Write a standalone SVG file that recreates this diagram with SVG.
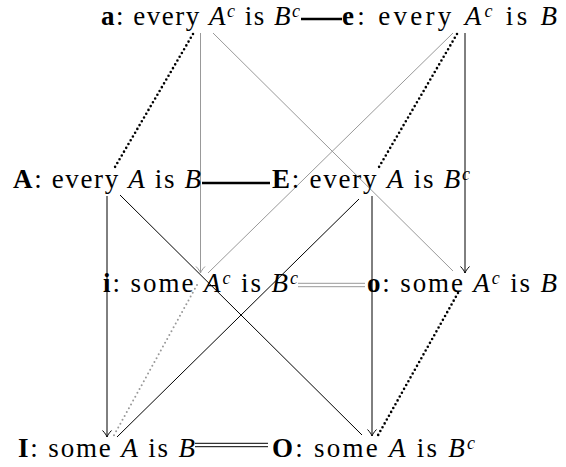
<svg xmlns="http://www.w3.org/2000/svg" width="566" height="467" viewBox="0 0 566 467">
<style>
.t{font-family:"Liberation Serif","Times New Roman",serif;font-size:27px;fill:#000}
.b{font-weight:bold}
.i{font-style:italic}
.s{font-style:italic;font-size:18px}
.k{fill:none;stroke:#000;stroke-width:1}
.g{fill:none;stroke:#999;stroke-width:1}
.thick{fill:none;stroke:#000;stroke-width:2.6}
.dot{fill:none;stroke:#000;stroke-width:2.6;stroke-dasharray:0 4.4;stroke-linecap:round}
.gdot{fill:none;stroke:#999;stroke-width:2;stroke-dasharray:0 4.4;stroke-linecap:round}
</style>
<defs>
<marker id="ak" viewBox="-8 -6 10 12" refX="0" refY="0" markerWidth="10" markerHeight="12" markerUnits="userSpaceOnUse" orient="auto">
<path d="M-6.5,-4.5 C-4,-2 -1.5,-0.5 0,0 C-1.5,0.5 -4,2 -6.5,4.5" fill="none" stroke="#000" stroke-width="1"/>
</marker>
<marker id="ag" viewBox="-8 -6 10 12" refX="0" refY="0" markerWidth="10" markerHeight="12" markerUnits="userSpaceOnUse" orient="auto">
<path d="M-6.5,-4.5 C-4,-2 -1.5,-0.5 0,0 C-1.5,0.5 -4,2 -6.5,4.5" fill="none" stroke="#999" stroke-width="1"/>
</marker>
</defs>
<g id="connectors">
<line class="g" x1="200.5" y1="33" x2="200.5" y2="273" marker-end="url(#ag)"/>
<line class="k" x1="465" y1="33" x2="465" y2="273" marker-end="url(#ak)"/>
<line class="k" x1="107" y1="196" x2="107" y2="437" stroke="#444" marker-end="url(#ak)"/>
<line class="k" x1="372" y1="196" x2="372" y2="436" marker-end="url(#ak)"/>
<line class="g" x1="213" y1="33" x2="453" y2="271"/>
<line class="g" x1="453" y1="33" x2="208" y2="273"/>
<line class="k" x1="120" y1="195" x2="362" y2="435"/>
<line class="k" x1="359" y1="199" x2="117" y2="437"/>
<line class="dot" x1="193" y1="34" x2="115" y2="167"/>
<line class="dot" x1="457" y1="34" x2="379" y2="167"/>
<line class="dot" x1="458" y1="293" x2="377" y2="437"/>
<line class="gdot" x1="197" y1="285" x2="113" y2="437"/>
<line class="thick" x1="301" y1="19" x2="342" y2="19"/>
<line class="thick" x1="202" y1="183" x2="270" y2="183"/>
<line class="g" x1="298" y1="283.3" x2="365" y2="283.3"/>
<line class="g" x1="298" y1="286.7" x2="365" y2="286.7"/>
<line class="k" x1="195" y1="443.3" x2="268" y2="443.3"/>
<line class="k" x1="195" y1="446.7" x2="268" y2="446.7"/>
</g>
<g id="node-a"><text class="t" x="101" y="25" textLength="199" lengthAdjust="spacing"><tspan class="b">a</tspan>: every <tspan class="i">A</tspan><tspan class="s" dy="-8.5">c</tspan><tspan dy="8.5"> is </tspan><tspan class="i">B</tspan><tspan class="s" dy="-8.5">c</tspan></text></g>
<g id="node-e"><text class="t" x="342" y="25" textLength="215" lengthAdjust="spacing"><tspan class="b">e</tspan>: every <tspan class="i">A</tspan><tspan class="s" dy="-8.5">c</tspan><tspan dy="8.5"> is </tspan><tspan class="i">B</tspan></text></g>
<g id="node-A"><text class="t" x="13" y="188" textLength="188" lengthAdjust="spacing"><tspan class="b">A</tspan>: every <tspan class="i">A</tspan> is <tspan class="i">B</tspan></text></g>
<g id="node-E"><text class="t" x="272" y="188" textLength="198" lengthAdjust="spacing"><tspan class="b">E</tspan>: every <tspan class="i">A</tspan> is <tspan class="i">B</tspan><tspan class="s" dy="-8.5">c</tspan></text></g>
<g id="node-i"><text class="t" x="103" y="292" textLength="195" lengthAdjust="spacing"><tspan class="b">i</tspan>: some <tspan class="i">A</tspan><tspan class="s" dy="-8.5">c</tspan><tspan dy="8.5"> is </tspan><tspan class="i">B</tspan><tspan class="s" dy="-8.5">c</tspan></text></g>
<g id="node-o"><text class="t" x="367" y="292" textLength="190" lengthAdjust="spacing"><tspan class="b">o</tspan>: some <tspan class="i">A</tspan><tspan class="s" dy="-8.5">c</tspan><tspan dy="8.5"> is </tspan><tspan class="i">B</tspan></text></g>
<g id="node-I"><text class="t" x="18" y="457" textLength="177" lengthAdjust="spacing"><tspan class="b">I</tspan>: some <tspan class="i">A</tspan> is <tspan class="i">B</tspan></text></g>
<g id="node-O"><text class="t" x="272" y="457" textLength="203" lengthAdjust="spacing"><tspan class="b">O</tspan>: some <tspan class="i">A</tspan> is <tspan class="i">B</tspan><tspan class="s" dy="-8.5">c</tspan></text></g>
</svg>
